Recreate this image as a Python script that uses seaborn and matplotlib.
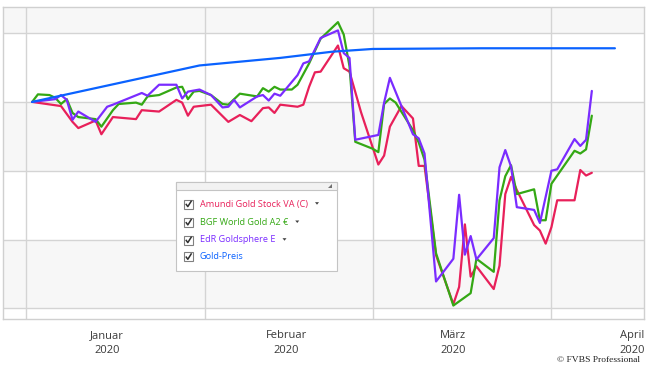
import pandas as pd
import numpy as np
import matplotlib
matplotlib.use("Agg")
import matplotlib.pyplot as plt
import matplotlib.dates as mdates
from matplotlib.patches import Rectangle, Polygon
import seaborn as sns

# values (performance in %, start = 0)
amundi_dates = ["01-02", "01-07", "01-09", "01-10", "01-13", "01-14", "01-16", "01-20", "01-21",
                "01-24", "01-27", "01-28", "01-29", "01-30", "02-02", "02-05", "02-07", "02-09",
                "02-11", "02-12", "02-13", "02-14", "02-17", "02-18", "02-19", "02-20", "02-21",
                "02-24", "02-25", "02-26", "02-28", "03-02", "03-03", "03-04", "03-06", "03-08",
                "03-09", "03-10", "03-12", "03-15", "03-16", "03-17", "03-18", "03-19", "03-22",
                "03-23", "03-24", "03-25", "03-26", "03-29", "03-30", "03-31", "04-01", "04-02",
                "04-05", "04-06", "04-07", "04-08"]
amundi_vals = [0.0, -0.6, -2.9, -3.8, -2.7, -4.7, -2.2, -2.5, -1.2,
               -1.4, 0.3, -0.1, -2.0, -0.7, -0.4, -2.9, -1.9, -2.8,
               -0.9, -0.8, -1.6, -0.4, -0.7, -0.4, 2.2, 4.3, 4.4,
               8.2, 4.9, 4.4, -1.5, -9.1, -7.8, -3.6, -0.6, -2.4,
               -9.3, -9.3, -22.3, -29.4, -26.9, -17.8, -25.4, -23.9, -27.2,
               -23.8, -13.4, -10.9, -12.8, -17.9, -18.7, -20.6, -18.2, -14.3,
               -14.3, -9.9, -10.7, -10.3]

bgf_dates = ["01-02", "01-03", "01-05", "01-06", "01-07", "01-08", "01-09", "01-10", "01-13",
             "01-14", "01-16", "01-17", "01-20", "01-21", "01-22", "01-24", "01-27", "01-28",
             "01-29", "01-30", "01-31", "02-02", "02-04", "02-05", "02-07", "02-10", "02-11",
             "02-12", "02-13", "02-14", "02-16", "02-17", "02-19", "02-21", "02-24", "02-25",
             "02-26", "02-27", "03-01", "03-02", "03-03", "03-04", "03-05", "03-08", "03-09",
             "03-10", "03-12", "03-15", "03-18", "03-19", "03-22", "03-23", "03-24", "03-25",
             "03-26", "03-29", "03-30", "03-31", "04-01", "04-05", "04-06", "04-07", "04-08"]
bgf_vals = [0.0, 1.1, 1.0, 0.6, -0.3, 0.4, -1.6, -2.2, -2.5,
            -3.6, -1.2, -0.3, -0.1, -0.4, 0.8, 1.0, 2.1, 2.2,
            0.4, 1.5, 1.6, 1.0, -0.3, -0.4, 1.2, 0.8, 2.0,
            1.5, 2.2, 1.8, 1.8, 2.5, 5.6, 9.2, 11.6, 9.8,
            5.2, -5.8, -6.8, -7.3, -0.3, 0.5, -0.1, -4.1, -5.9,
            -8.4, -22.0, -29.6, -27.8, -22.8, -24.7, -14.3, -10.8, -9.2,
            -13.4, -12.7, -17.2, -17.2, -11.9, -7.1, -7.5, -6.9, -2.0]

edr_dates = ["01-02", "01-06", "01-07", "01-08", "01-09", "01-10", "01-11", "01-13", "01-15",
             "01-16", "01-21", "01-22", "01-24", "01-27", "01-28", "01-29", "01-31", "02-02",
             "02-04", "02-05", "02-06", "02-07", "02-10", "02-11", "02-12", "02-13", "02-14",
             "02-17", "02-18", "02-19", "02-21", "02-24", "02-25", "02-26", "02-27", "03-02",
             "03-03", "03-04", "03-08", "03-09", "03-10", "03-12", "03-15", "03-16", "03-17",
             "03-18", "03-19", "03-22", "03-23", "03-24", "03-25", "03-26", "03-29", "03-30",
             "04-01", "04-02", "04-05", "04-06", "04-07", "04-08"]
edr_vals = [0.0, 0.4, 1.0, 0.3, -2.6, -1.4, -1.9, -2.9, -0.7,
            -0.4, 1.3, 0.9, 2.5, 2.5, 0.5, 1.5, 1.8, 1.0,
            -0.8, -0.7, 0.3, -0.8, 0.8, 1.0, 0.2, 1.2, 0.9,
            3.9, 5.6, 5.9, 9.3, 10.4, 7.1, 6.4, -5.5, -4.8,
            -0.1, 3.5, -4.7, -5.3, -7.5, -26.1, -22.8, -13.5, -22.2,
            -19.5, -22.9, -19.8, -9.5, -7.0, -9.4, -15.3, -15.7, -17.6,
            -10.0, -9.8, -5.4, -6.4, -5.5, 1.6]

gold_dates = ["01-02", "01-31", "02-14", "02-23", "03-01", "03-20", "04-12"]
gold_vals = [0.0, 5.3, 6.4, 7.3, 7.7, 7.8, 7.8]

series_names = ["Amundi Gold Stock VA (C)", "BGF World Gold A2 €", "EdR Goldsphere E", "Gold-Preis"]
series_colors = ["#e8205a", "#34a814", "#7a2cff", "#0a62ff"]
month_labels = ["Januar\n2020", "Februar\n2020", "März\n2020", "April\n2020"]

frames = []
for name, d, v in zip(series_names,
                      [amundi_dates, bgf_dates, edr_dates, gold_dates],
                      [amundi_vals, bgf_vals, edr_vals, gold_vals]):
    frames.append(pd.DataFrame({"Datum": pd.to_datetime(["2020-" + s for s in d]),
                                "Wert": v, "Fonds": name}))
df = pd.concat(frames, ignore_index=True)

sns.set_style("white")
plt.rcParams["font.family"] = ["Open Sans", "DejaVu Sans"]

fig = plt.figure(figsize=(6.47, 3.66), dpi=100)
ax = fig.add_axes([3.3 / 647, 1 - 319.3 / 366, (644 - 3.3) / 647, (319.3 - 7) / 366])

ymin, ymax = -31.6, 13.8
# alternating bands
for lo, hi in [(10, ymax), (-10, 0), (-30, -20)]:
    ax.axhspan(lo, hi, color="#f7f7f7", zorder=0, lw=0)
for yv in [-30, -20, -10, 0, 10]:
    ax.axhline(yv, color="#d4d4d4", lw=1, zorder=1)
month_starts = pd.to_datetime(["2020-01-01", "2020-02-01", "2020-03-01", "2020-04-01"])
for m in month_starts:
    ax.axvline(m, color="#d4d4d4", lw=1, zorder=1)

sns.lineplot(data=df, x="Datum", y="Wert", hue="Fonds", palette=dict(zip(series_names, series_colors)),
             hue_order=series_names, estimator=None, sort=False, linewidth=1.6, legend=False, ax=ax, zorder=3)

ax.set_xlabel("")
ax.set_ylabel("")
ax.set_yticks([])

# month labels in the middle of each month, five small ticks per month
lengths = [31, 29, 31, 30]
major = [mdates.date2num(m) + 14 for m in month_starts]
minor = []
for mj, L in zip(major, lengths):
    minor += [mj + k * L / 5 for k in (-2, -1, 1, 2)]
ax.set_xticks(major)
ax.set_xticklabels(month_labels, fontsize=8, color="#3a3a3a", linespacing=1.45)
ax.set_xticks(minor, minor=True)
ax.tick_params(axis="x", which="major", length=5, color="#c8c8c8", pad=3)
ax.tick_params(axis="x", which="minor", length=2.5, color="#c8c8c8")
ax.set_xlim(pd.Timestamp("2019-12-28"), pd.Timestamp("2020-04-17 01:00"))
ax.set_ylim(ymin, ymax)
for s in ax.spines.values():
    s.set_color("#d0d0d0")
    s.set_linewidth(1)

# legend panel (checkbox style)
lx0, ly0, lx1, ly1 = 176, 181.7, 337, 271
lax = fig.add_axes([lx0 / 647, 1 - ly1 / 366, (lx1 - lx0) / 647, (ly1 - ly0) / 366])
lax.set_xlim(0, lx1 - lx0)
lax.set_ylim(ly1 - ly0, 0)
lax.axis("off")
W, H = lx1 - lx0, ly1 - ly0
lax.add_patch(Rectangle((0, 0), W, H, facecolor="white", edgecolor="#c4c4c4", lw=0.8, clip_on=False))
lax.add_patch(Rectangle((0, 0), W, 8.5, facecolor="#f2f2f2", edgecolor="#c4c4c4", lw=0.8, clip_on=False))
lax.add_patch(Polygon([(152, 6.6), (156, 6.6), (156, 2.6)], closed=True, color="#707070", lw=0))
row_y = [22.3, 40.6, 58.3, 75.0]
has_arrow = [True, True, True, False]
renderer = fig.canvas.get_renderer()
for yc, name, col, arr in zip(row_y, series_names, series_colors, has_arrow):
    lax.add_patch(Rectangle((8, yc - 4.5), 9, 9, facecolor="white", edgecolor="#808080", lw=0.8))
    lax.plot([9.8, 11.8, 15.6], [yc - 0.2, yc + 2.6, yc - 3.4], color="#303030", lw=1.1,
             solid_capstyle="butt")
    t = lax.text(24, yc, name, color=col, fontsize=6.6, va="center", ha="left")
    if arr:
        ext = t.get_window_extent(renderer)
        axr = ext.x1 / fig.dpi * 100 - lx0 + 9
        lax.add_patch(Polygon([(axr - 2, yc - 1.8), (axr + 2, yc - 1.8), (axr, yc + 0.7)],
                              closed=True, color="#404040", lw=0))

fig.text(640 / 647, 1 - 359.5 / 366, "© FVBS Professional", ha="right", va="center",
         fontsize=6.8, family="Liberation Serif", color="#222222")

fig.savefig("out.png", dpi=100)
